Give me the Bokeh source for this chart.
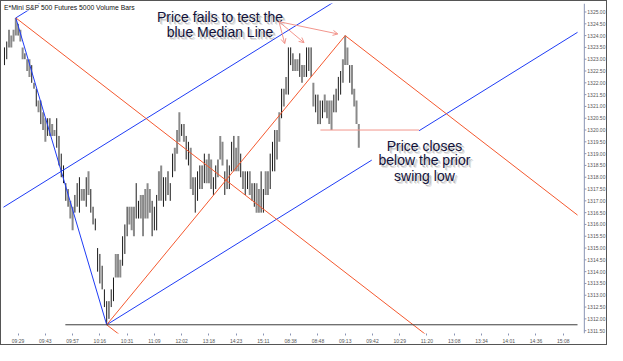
from bokeh.plotting import figure
from bokeh.models import Range1d, FixedTicker, Arrow, OpenHead, Label, ColumnDataSource
from bokeh.core.properties import value
from bokeh.embed import file_html
from bokeh.resources import INLINE

chart_title = "E*Mini S&P 500 Futures 5000 Volume Bars"

time_labels = ["09:29", "09:43", "09:57", "10:16", "10:31", "11:09", "12:02", "13:18", "14:23", "15:11",
               "08:38", "08:48", "09:13", "09:42", "10:29", "11:20", "13:08", "13:34", "14:01", "14:36", "15:08"]
time_label_bar = [6, 18, 30, 42, 54, 66, 78, 90, 102, 114, 126, 138, 150, 162, 174, 186, 198, 210, 222, 234, 246]

price_ticks = [1311.5, 1312.0, 1312.5, 1313.0, 1313.5, 1314.0, 1314.5, 1315.0, 1315.5, 1316.0,
               1316.5, 1317.0, 1317.5, 1318.0, 1318.5, 1319.0, 1319.5, 1320.0, 1320.5, 1321.0,
               1321.5, 1322.0, 1322.5, 1323.0, 1323.5, 1324.0, 1324.5, 1325.0]

bar_high = [1323.5, 1323.75, 1324.25, 1324.0, 1324.25, 1324.75, 1324.5, 1324.25, 1323.5, 1323.25,
            1323.0, 1323.0, 1322.75, 1322.0, 1321.75, 1321.25, 1321.25, 1320.75, 1320.5, 1320.5,
            1320.5, 1320.25, 1320.0, 1320.5, 1319.75, 1319.0, 1318.5, 1317.75, 1317.5, 1317.0,
            1316.75, 1317.25, 1317.75, 1318.0, 1317.5, 1317.5, 1318.0, 1318.25, 1317.5, 1316.75,
            1316.25, 1315.0, 1314.75, 1314.25, 1313.25, 1312.75, 1312.75, 1313.25, 1313.75, 1314.75,
            1314.75, 1314.5, 1315.5, 1316.0, 1316.75, 1316.75, 1316.75, 1316.75, 1317.75, 1317.0,
            1317.25, 1317.25, 1317.5, 1317.75, 1317.5, 1317.0, 1316.75, 1317.25, 1318.25, 1318.5,
            1318.0, 1318.0, 1318.25, 1317.75, 1319.0, 1319.25, 1320.0, 1320.75, 1320.25, 1320.25,
            1319.75, 1319.5, 1319.25, 1318.0, 1318.0, 1318.25, 1318.5, 1318.5, 1319.0, 1318.75,
            1319.0, 1318.75, 1318.0, 1318.5, 1318.75, 1319.75, 1319.5, 1318.25, 1318.75, 1318.5,
            1319.5, 1319.75, 1319.25, 1319.75, 1319.0, 1318.25, 1318.25, 1318.25, 1318.25, 1317.75,
            1317.75, 1317.75, 1317.5, 1318.25, 1317.5, 1318.25, 1318.25, 1319.0, 1319.5, 1320.0,
            1320.0, 1320.75, 1321.75, 1321.75, 1322.25, 1323.5, 1323.5, 1323.25, 1323.0, 1323.0,
            1323.25, 1322.75, 1322.75, 1323.5, 1323.5, 1323.5, 1322.0, 1321.5, 1321.5, 1321.25,
            1321.25, 1321.5, 1321.25, 1321.25, 1321.25, 1321.5, 1321.75, 1322.25, 1322.5, 1323.0,
            1324.0, 1323.5, 1322.75, 1322.75, 1321.75, 1321.25, 1320.25]

bar_low = [1322.75, 1323.0, 1323.5, 1323.5, 1323.75, 1324.0, 1324.0, 1323.75, 1323.0, 1323.0,
           1322.5, 1322.25, 1322.0, 1321.75, 1321.0, 1320.75, 1320.25, 1320.0, 1319.5, 1319.75,
           1319.75, 1319.75, 1319.75, 1319.25, 1318.5, 1318.0, 1317.75, 1317.0, 1316.75, 1316.25,
           1315.75, 1316.5, 1316.75, 1316.5, 1317.0, 1317.0, 1316.75, 1317.25, 1316.5, 1316.0,
           1315.75, 1314.0, 1313.5, 1313.25, 1312.5, 1311.75, 1312.0, 1312.5, 1312.75, 1313.75,
           1313.75, 1313.75, 1314.25, 1314.75, 1315.5, 1316.0, 1315.75, 1315.5, 1316.25, 1316.25,
           1316.25, 1315.5, 1316.25, 1316.25, 1316.5, 1315.5, 1315.75, 1315.75, 1317.0, 1317.0,
           1316.75, 1317.0, 1317.25, 1317.0, 1318.0, 1318.25, 1319.0, 1319.5, 1319.75, 1319.5,
           1318.75, 1318.5, 1317.5, 1317.25, 1316.5, 1317.0, 1317.5, 1317.5, 1317.75, 1317.75,
           1317.75, 1317.5, 1317.25, 1317.5, 1318.0, 1318.75, 1318.5, 1317.25, 1317.5, 1317.5,
           1318.25, 1318.25, 1318.25, 1318.25, 1318.0, 1317.5, 1317.25, 1317.5, 1317.25, 1317.0,
           1316.75, 1316.5, 1316.5, 1316.5, 1316.5, 1317.25, 1317.25, 1317.5, 1318.25, 1318.25,
           1318.75, 1319.5, 1320.5, 1321.0, 1321.5, 1321.5, 1322.75, 1322.5, 1322.5, 1322.5,
           1322.25, 1322.0, 1322.25, 1322.25, 1322.5, 1322.25, 1321.0, 1320.75, 1320.25, 1320.25,
           1320.5, 1320.75, 1320.5, 1320.25, 1320.0, 1320.75, 1320.75, 1321.25, 1321.5, 1322.0,
           1322.75, 1322.75, 1322.0, 1321.5, 1321.0, 1320.25, 1319.25]

# k = dark bar, g = grey bar
bar_tone = ("kkggggkggk" "ggkkkgkggk" "kggkkkkkkg" "gkkkggkgkk" "kkkkkkkkkg"
            "ggkkkgggkk" "gkgggkkkgg" "kkgkkgggkg" "kkggkkkkkg" "ggkkkggkkk"
            "kkggkgkkgg" "kggkkggkkk" "kgkggkkkgg" "kggkkkgkkk" "kgkggkkkkg" "ggkgggg")

# pitchfork pivots (bar index, price)
pivot_high = (5, 1324.75)
pivot_low = (45, 1311.75)
pivot_peak = (150, 1324.00)
blue_fork_origin = (-60, 1313.17)
swing_low_price = 1320.00
swing_low_start = 139.1
low_line_start = 26.8
line_end = 252.3
note_gap = (161.7, 182.55)

note_top = ["Price fails to test the", "blue Median Line"]
note_top_pos = (94.9, [1324.80, 1324.15])
note_right = ["Price closes", "below the prior", "swing low"]
note_right_pos = (184.9, [1319.33, 1318.72, 1318.07])
arrow_from = (120.85, 1324.59)
arrow_to = [(123.4, 1323.66), (131.9, 1323.70), (146.8, 1324.07)]

X_START, X_AXIS, X_END = -0.43, 255.3, 265.5
Y_START, Y_END = 1311.38, 1325.36
BLUE = "#1f3cf5"
RED = "#f4592f"
PINK = "#f2958c"
NAVY = "#12123a"
AXIS = "#8a94b4"

p = figure(width=607, height=345, x_range=Range1d(X_START, X_END), y_range=Range1d(Y_START, Y_END),
           output_backend="svg", toolbar_location=None, y_axis_location=None,
           min_border_left=2, min_border_top=2, min_border_right=1, min_border_bottom=3,
           background_fill_color="white", border_fill_color="white")
p.grid.visible = False
p.outline_line_color = None
p.styles = {"border": "1px solid #555555"}

# bottom time axis
ax = p.xaxis[0]
ax.ticker = FixedTicker(ticks=time_label_bar)
ax.major_label_overrides = {t: s for t, s in zip(time_label_bar, time_labels)}
ax.axis_line_color = None
ax.major_tick_line_color = AXIS
ax.minor_tick_line_color = None
ax.major_tick_in = 0
ax.major_tick_out = 2
ax.major_label_standoff = 2
ax.major_label_text_font = "Liberation Sans"
ax.major_label_text_font_size = "5px"
ax.major_label_text_color = "#555555"

# right price scale
p.segment(x0=[X_AXIS], y0=[Y_START], x1=[X_AXIS], y1=[Y_END], line_color=AXIS, line_width=1)
p.segment(x0=[X_AXIS] * len(price_ticks), y0=price_ticks, x1=[X_AXIS + 0.9] * len(price_ticks),
          y1=price_ticks, line_color=AXIS, line_width=1)
p.text(x=[X_AXIS] * len(price_ticks), y=price_ticks, text=["%.2f" % v for v in price_ticks],
       x_offset=3, text_font=value("Liberation Sans"), text_font_size=value("5px"),
       text_color="#555555", text_baseline="middle", text_align="left")

# bars
n = len(bar_high)
src = ColumnDataSource(dict(
    x=list(range(n)), hi=bar_high, lo=bar_low,
    color=["#1a1a1a" if t == "k" else "#8a8a8a" for t in bar_tone],
    width=[1.0 if t == "k" else 2.0 for t in bar_tone]))
p.segment(x0="x", y0="lo", x1="x", y1="hi", line_color="color", line_width="width", source=src)


def at(point, slope, i):
    return point[1] + slope * (i - point[0])


def mid(a, b):
    return ((a[0] + b[0]) / 2, (a[1] + b[1]) / 2)


# blue pitchfork: origin off chart, prongs through pivot_high and pivot_low
mb = mid(pivot_high, pivot_low)
sb = (mb[1] - blue_fork_origin[1]) / (mb[0] - blue_fork_origin[0])
blue_xs = [
    [blue_fork_origin[0], line_end],
    [pivot_high[0], line_end],
    [pivot_low[0], note_gap[0]],
    [note_gap[1], line_end],
    [pivot_high[0], pivot_low[0]],
]
blue_ys = [
    [blue_fork_origin[1], at(blue_fork_origin, sb, line_end)],
    [pivot_high[1], at(pivot_high, sb, line_end)],
    [pivot_low[1], at(pivot_low, sb, note_gap[0])],
    [at(pivot_low, sb, note_gap[1]), at(pivot_low, sb, line_end)],
    [pivot_high[1], pivot_low[1]],
]
p.multi_line(xs=blue_xs, ys=blue_ys, line_color=BLUE, line_width=1)

# red pitchfork: origin pivot_high, prongs through pivot_low and pivot_peak
mr = mid(pivot_low, pivot_peak)
sr = (mr[1] - pivot_high[1]) / (mr[0] - pivot_high[0])
red_xs = [
    [pivot_high[0], line_end],
    [pivot_low[0], pivot_low[0] + 20],
    [pivot_peak[0], line_end],
    [pivot_low[0], pivot_peak[0]],
]
red_ys = [
    [pivot_high[1], at(pivot_high, sr, line_end)],
    [pivot_low[1], at(pivot_low, sr, pivot_low[0] + 20)],
    [pivot_peak[1], at(pivot_peak, sr, line_end)],
    [pivot_low[1], pivot_peak[1]],
]
p.multi_line(xs=red_xs, ys=red_ys, line_color=RED, line_width=1)

# horizontal lines
p.segment(x0=[low_line_start], y0=[pivot_low[1]], x1=[line_end], y1=[pivot_low[1]],
          line_color="#3c3c3c", line_width=1)
p.segment(x0=[swing_low_start], y0=[swing_low_price], x1=[note_gap[1]], y1=[swing_low_price],
          line_color=PINK, line_width=1)

# arrows
for tx, ty in arrow_to:
    p.add_layout(Arrow(end=OpenHead(size=5, line_color=PINK, line_width=1),
                       x_start=arrow_from[0], y_start=arrow_from[1], x_end=tx, y_end=ty,
                       line_color=PINK, line_width=1))


def note(lines, pos):
    xs = [pos[0]] * len(lines)
    for dx, dy, alpha in ((3, 3, 0.18), (2, 2, 0.3)):
        p.text(x=xs, y=pos[1], text=lines, text_font=value("Liberation Sans"),
               text_font_size=value("14px"), text_align="center", text_baseline="alphabetic",
               text_color="#555555", text_alpha=alpha, x_offset=dx, y_offset=dy)
    p.text(x=xs, y=pos[1], text=lines, text_font=value("Liberation Sans"),
           text_font_size=value("14px"), text_align="center", text_baseline="alphabetic",
           text_color=NAVY)


note(note_top, note_top_pos)
note(note_right, note_right_pos)

p.add_layout(Label(x=-0.2, y=Y_END, text=chart_title, text_font="Liberation Sans",
                   text_font_size="6.8px", text_color="#111111", text_baseline="top",
                   background_fill_color="white", background_fill_alpha=1.0))

open("out.html", "w").write(file_html(p, INLINE))
